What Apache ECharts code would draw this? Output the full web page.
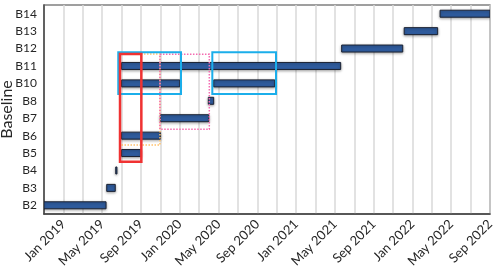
<!DOCTYPE html>
<html>
<head>
<meta charset="utf-8">
<script src="https://cdn.jsdelivr.net/npm/echarts@6/dist/echarts.min.js"></script>
<style>html,body{margin:0;padding:0;background:#fff}#c{width:500px;height:271px}</style>
</head>
<body>
<div id="c"></div>
<script>
// Categories (bottom to top)
const baselines = ['B2','B3','B4','B5','B6','B7','B8','B10','B11','B12','B13','B14'];
// Months counted from Jan 2019 (0 = Jan 2019)
const barRows   = ['B2','B3','B4','B5','B6','B7','B8','B10','B10','B11','B12','B13','B14'];
const barStarts = [-2, 4.47, 5.4, 6.0, 6.0, 10.0, 14.95, 6.0, 15.5, 6.0, 28.7, 35.15, 38.85];
const barEnds   = [4.4, 5.35, 5.5, 8.0, 10.0, 15.0, 15.5, 12.0, 21.8, 28.6, 35.0, 38.6, 44.5];
// Highlight boxes: x in months, y in category-index units
const boxX0 = [5.66, 15.36, 5.84, 9.96, 5.84];
const boxX1 = [12.13, 21.93, 8.04, 15.05, 9.96];
const boxY0 = [6.39, 6.39, 2.5, 4.36, 3.46];
const boxY1 = [8.78, 8.78, 8.69, 8.67, 8.69];
const boxKind = ['blue', 'blue', 'red', 'pink', 'orange'];
// Tick labels (every 4 months starting Jan 2019)
const tickLabels = ['Jan 2019','May 2019','Sep 2019','Jan 2020','May 2020','Sep 2020','Jan 2021','May 2021','Sep 2021','Jan 2022','May 2022','Sep 2022'];

const boxStyles = {
  blue:   {stroke:'#1BAEEA', lineWidth:2, lineDash:null},
  red:    {stroke:'#F03232', lineWidth:2.5, lineDash:null},
  pink:   {stroke:'#F46BB0', lineWidth:1.5, lineDash:[1.5,1.5]},
  orange: {stroke:'#FFC16B', lineWidth:1.5, lineDash:[1.5,1.5]}
};
const FONT = 'Lato';

const barData = barRows.map((r,i)=>[barStarts[i], barEnds[i], baselines.indexOf(r)]);
const boxData = boxKind.map((k,i)=>[boxX0[i], boxX1[i], boxY0[i], boxY1[i], i]);
// draw orange before red
const boxOrder = [4,3,0,1,2];

const chart = echarts.init(document.getElementById('c'), null, {renderer:'canvas'});
chart.setOption({
  animation:false,
  grid:{left:44, right:10, top:5, bottom:57, show:true, borderColor:'#404040', borderWidth:1.2,
        containLabel:false, outerBoundsMode:'none'},
  xAxis:{
    type:'value', min:-2, max:44, interval:2,
    axisLine:{show:true, onZero:false, lineStyle:{color:'#404040', width:1.5}},
    axisTick:{show:false},
    splitLine:{show:true, lineStyle:{color:'#D9D9D9', width:1.5}},
    axisLabel:{
      rotate:45, margin:8, color:'#262626', fontFamily:FONT, fontSize:13,
      formatter:v=>{ if(v<0||v%4!==0) return ''; return tickLabels[v/4]||''; }
    }
  },
  yAxis:[{
    type:'category', data:baselines,
    name:'Baseline', nameLocation:'middle', nameGap:29, nameMoveOverlap:false,
    nameTextStyle:{fontFamily:FONT, fontSize:16, color:'#262626'},
    axisLine:{show:true, onZero:false, lineStyle:{color:'#404040', width:1.5}},
    axisTick:{show:false},
    splitLine:{show:false},
    axisLabel:{color:'#262626', fontFamily:FONT, fontSize:12, margin:7}
  },{
    type:'value', min:-0.5, max:11.5, show:false, splitLine:{show:false}
  }],
  series:[{
    type:'custom', xAxisIndex:0, yAxisIndex:0, clip:true,
    data:barData,
    encode:{x:[0,1], y:2},
    renderItem:(params, api)=>{
      const p0 = api.coord([api.value(0), api.value(2)]);
      const p1 = api.coord([api.value(1), api.value(2)]);
      const h = 7;
      const rect = echarts.graphic.clipRectByRect(
        {x:p0[0], y:p0[1]-h/2, width:Math.max(p1[0]-p0[0],1.2), height:h},
        {x:params.coordSys.x, y:params.coordSys.y, width:params.coordSys.width, height:params.coordSys.height});
      if(!rect) return;
      return {type:'rect', shape:rect, style:{fill:'#2F5C9E', stroke:'#1C2333', lineWidth:1,
        shadowBlur:3, shadowColor:'rgba(0,0,0,0.35)', shadowOffsetY:1}};
    }
  },{
    type:'custom', xAxisIndex:0, yAxisIndex:1, clip:false,
    data:boxOrder.map(i=>boxData[i]),
    encode:{x:[0,1], y:[2,3]},
    renderItem:(params, api)=>{
      const a = api.coord([api.value(0), api.value(3)]);
      const b = api.coord([api.value(1), api.value(2)]);
      const st = boxStyles[boxKind[api.value(4)]];
      return {type:'rect', shape:{x:a[0], y:a[1], width:b[0]-a[0], height:b[1]-a[1]},
        style:{fill:null, stroke:st.stroke, lineWidth:st.lineWidth, lineDash:st.lineDash}};
    }
  }]
});
</script>
</body>
</html>
